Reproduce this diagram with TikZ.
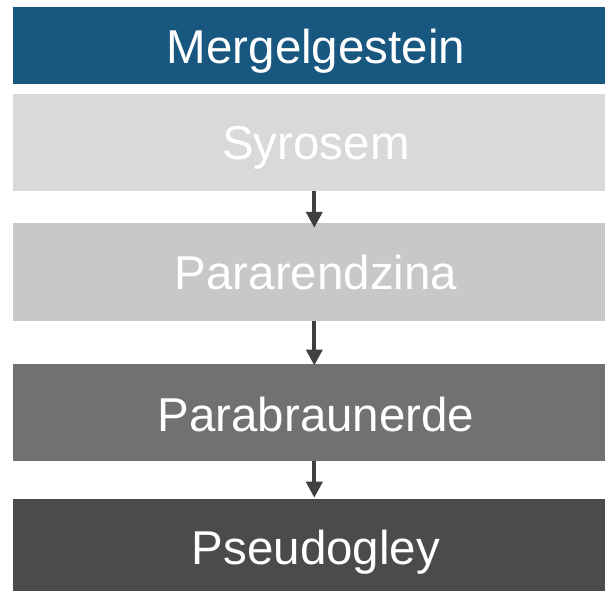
\documentclass[tikz,border=0pt]{standalone}
\usepackage{fontspec}
\setmainfont{Liberation Sans}
\usetikzlibrary{arrows.meta}
\definecolor{cblue}{RGB}{23,87,128}
\definecolor{cone}{RGB}{217,217,217}
\definecolor{ctwo}{RGB}{200,200,200}
\definecolor{cthree}{RGB}{113,113,113}
\definecolor{cfour}{RGB}{75,75,75}
\definecolor{carrow}{RGB}{64,64,64}
\begin{document}
\begin{tikzpicture}[x=1pt,y=1pt,
  box/.style={draw=none,minimum width=592pt,inner sep=0pt,outer sep=0pt},
  txt/.style={text=white,font=\fontsize{47.5}{52}\selectfont,inner sep=0pt,text height=34pt,text depth=0pt},
  flow/.style={draw=carrow,line width=4pt,-{Triangle[width=16pt,length=16pt]}}]
\useasboundingbox (0,0) rectangle (605,-591);
\node[box,fill=cblue,minimum height=76.7pt] (m) at (309,-45.35) {};
\node[box,fill=cone,minimum height=97pt] (s) at (309,-142.5) {};
\node[box,fill=ctwo,minimum height=97.7pt] (p) at (309,-272.15) {};
\node[box,fill=cthree,minimum height=97pt] (b) at (309,-412.5) {};
\node[box,fill=cfour,minimum height=92pt] (g) at (309,-545) {};
\node[txt] (mt) at ([xshift=7pt,yshift=-1pt]m.center) {Mergelgestein};
\node[txt] (st) at ([xshift=7pt]s.center) {Syrosem};
\node[txt] (pt) at ([xshift=7pt,yshift=-0.5pt]p.center) {Pararendzina};
\node[txt] (bt) at ([xshift=7pt,yshift=-1.5pt]b.center) {Parabraunerde};
\node[txt] (gt) at ([xshift=7pt,yshift=-2.5pt]g.center) {Pseudogley};
\draw[flow] ([xshift=5.3pt]s.south) -- ([xshift=5.3pt,yshift=-4.5pt]p.north);
\draw[flow] ([xshift=5.3pt]p.south) -- ([xshift=5.3pt,yshift=-1.5pt]b.north);
\draw[flow] ([xshift=5.3pt]b.south) -- ([xshift=5.3pt,yshift=1.3pt]g.north);
\end{tikzpicture}
\end{document}
